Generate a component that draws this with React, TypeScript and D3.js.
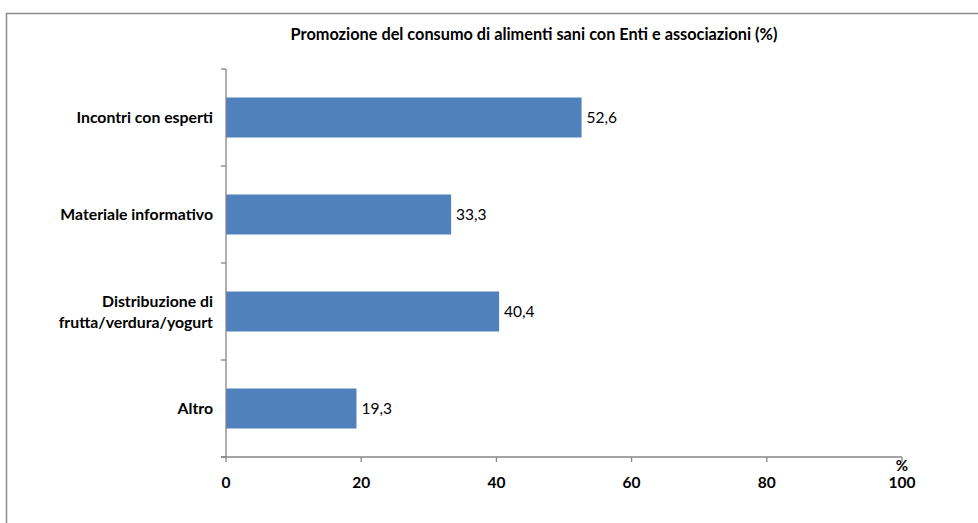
import React from "react";
import * as d3 from "d3";

const categories = ["Incontri con esperti", "Materiale informativo", "Distribuzione di\nfrutta/verdura/yogurt", "Altro"];
const values = [52.6, 33.3, 40.4, 19.3];
const xTicks = [0, 20, 40, 60, 80, 100];
const title = "Promozione del consumo di alimenti sani con Enti e associazioni (%)";

const W = 978, H = 523;
const left = 226, right = 902, top = 69, bottom = 457;
const FONT = "Lato, 'Open Sans', 'Liberation Sans', sans-serif";
const AXIS = "#868686";

export default function App() {
  const x = d3.scaleLinear().domain([0, 100]).range([left, right]);
  const y = d3.scaleBand().domain(categories).range([top, bottom]).paddingInner(0).paddingOuter(0);
  const bw = y.bandwidth();
  const barH = 40;
  return (
    <svg width={W} height={H} style={{ position: "absolute", left: 0, top: 0, background: "#fff" }} fontFamily={FONT}>
      <rect x={6.5} y={13.5} width={W} height={H} fill="#fff" stroke="#8c8c8c" strokeWidth={1.5} />
      <text x={534} y={40} textAnchor="middle" fontSize={16.3} fontWeight="bold" fill="#000">{title}</text>
      {categories.map((c, i) => {
        const yc = (y(c) as number) + bw / 2;
        const lines = c.split("\n");
        return (
          <g key={c}>
            <rect x={x(0)} y={yc - barH / 2} width={x(values[i]) - x(0)} height={barH} fill="#4F81BD" />
            <text x={x(values[i]) + 5} y={yc + 5} fontSize={15.5} fill="#000">{values[i].toFixed(1).replace(".", ",")}</text>
            {lines.map((l, j) => (
              <text key={j} x={213} y={yc + 5.5 + (j - (lines.length - 1) / 2) * 21} textAnchor="end" fontSize={15.8} fontWeight="bold" fill="#000">{l}</text>
            ))}
          </g>
        );
      })}
      <line x1={left} x2={left} y1={top} y2={bottom} stroke={AXIS} strokeWidth={1.3} />
      {[...categories.map((c) => y(c) as number), bottom].map((t, i) => (
        <line key={i} x1={left - 5} x2={left} y1={t} y2={t} stroke={AXIS} strokeWidth={1.3} />
      ))}
      <line x1={left - 5} x2={right} y1={bottom} y2={bottom} stroke={AXIS} strokeWidth={1.3} />
      {xTicks.map((t) => (
        <g key={t}>
          <line x1={x(t)} x2={x(t)} y1={bottom} y2={bottom + 5} stroke={AXIS} strokeWidth={1.3} />
          <text x={x(t)} y={488} textAnchor="middle" fontSize={15.5} fontWeight="bold" fill="#000">{t}</text>
        </g>
      ))}
      <text x={x(100)} y={471} textAnchor="middle" fontSize={15} fontWeight="bold" fill="#000">%</text>
    </svg>
  );
}
